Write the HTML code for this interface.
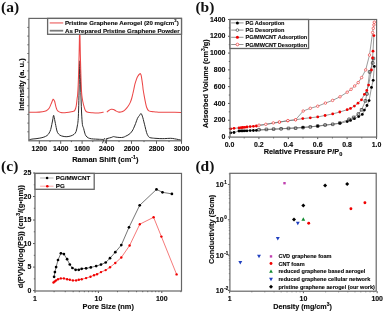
<!DOCTYPE html>
<html><head><meta charset="utf-8"><style>
html,body{margin:0;padding:0;background:#fff;}
body{width:385px;height:314px;overflow:hidden;}
svg{display:block;filter:blur(0.4px);}
</style></head><body>
<svg width="385" height="314" viewBox="0 0 385 314">
<rect x="0" y="0" width="385" height="314" fill="#fff"/>
<text x="1.0" y="11.9" font-size="15.5" text-anchor="start" fill="#111" font-weight="bold" font-family="'Liberation Serif', serif" >(a)</text>
<line x1="39.3" y1="140.8" x2="39.3" y2="143.8" stroke="#5a5a5a" stroke-width="1" />
<line x1="60.7" y1="140.8" x2="60.7" y2="143.8" stroke="#5a5a5a" stroke-width="1" />
<line x1="82.1" y1="140.8" x2="82.1" y2="143.8" stroke="#5a5a5a" stroke-width="1" />
<line x1="106.5" y1="140.8" x2="106.5" y2="143.8" stroke="#5a5a5a" stroke-width="1" />
<line x1="131.5" y1="140.8" x2="131.5" y2="143.8" stroke="#5a5a5a" stroke-width="1" />
<line x1="156.5" y1="140.8" x2="156.5" y2="143.8" stroke="#5a5a5a" stroke-width="1" />
<line x1="181.5" y1="140.8" x2="181.5" y2="143.8" stroke="#5a5a5a" stroke-width="1" />
<line x1="50.0" y1="140.8" x2="50.0" y2="142.10000000000002" stroke="#5a5a5a" stroke-width="1" />
<line x1="71.4" y1="140.8" x2="71.4" y2="142.10000000000002" stroke="#5a5a5a" stroke-width="1" />
<line x1="92.8" y1="140.8" x2="92.8" y2="142.10000000000002" stroke="#5a5a5a" stroke-width="1" />
<line x1="119" y1="140.8" x2="119" y2="142.10000000000002" stroke="#5a5a5a" stroke-width="1" />
<line x1="144" y1="140.8" x2="144" y2="142.10000000000002" stroke="#5a5a5a" stroke-width="1" />
<line x1="169" y1="140.8" x2="169" y2="142.10000000000002" stroke="#5a5a5a" stroke-width="1" />
<line x1="27.4" y1="27.4" x2="28.9" y2="27.4" stroke="#5a5a5a" stroke-width="1" />
<line x1="27.4" y1="36.099999999999994" x2="28.9" y2="36.099999999999994" stroke="#5a5a5a" stroke-width="1" />
<line x1="27.4" y1="44.8" x2="28.9" y2="44.8" stroke="#5a5a5a" stroke-width="1" />
<line x1="27.4" y1="53.5" x2="28.9" y2="53.5" stroke="#5a5a5a" stroke-width="1" />
<line x1="27.4" y1="62.199999999999996" x2="28.9" y2="62.199999999999996" stroke="#5a5a5a" stroke-width="1" />
<line x1="27.4" y1="70.9" x2="28.9" y2="70.9" stroke="#5a5a5a" stroke-width="1" />
<line x1="27.4" y1="79.6" x2="28.9" y2="79.6" stroke="#5a5a5a" stroke-width="1" />
<line x1="27.4" y1="88.29999999999998" x2="28.9" y2="88.29999999999998" stroke="#5a5a5a" stroke-width="1" />
<line x1="27.4" y1="97.0" x2="28.9" y2="97.0" stroke="#5a5a5a" stroke-width="1" />
<line x1="27.4" y1="105.69999999999999" x2="28.9" y2="105.69999999999999" stroke="#5a5a5a" stroke-width="1" />
<line x1="27.4" y1="114.4" x2="28.9" y2="114.4" stroke="#5a5a5a" stroke-width="1" />
<line x1="27.4" y1="123.1" x2="28.9" y2="123.1" stroke="#5a5a5a" stroke-width="1" />
<line x1="27.4" y1="131.79999999999998" x2="28.9" y2="131.79999999999998" stroke="#5a5a5a" stroke-width="1" />
<path d="M28.80,139.90 C29.33,139.77 30.80,139.30 32.00,139.10 C33.20,138.90 34.68,138.87 36.00,138.70 C37.32,138.53 38.58,138.37 39.90,138.10 C41.22,137.83 42.70,137.53 43.90,137.10 C45.10,136.67 46.23,136.17 47.10,135.50 C47.97,134.83 48.50,134.10 49.10,133.10 C49.70,132.10 50.25,130.93 50.70,129.50 C51.15,128.07 51.47,126.08 51.80,124.50 C52.13,122.92 52.40,121.53 52.70,120.00 C53.00,118.47 53.28,115.38 53.60,115.30 C53.92,115.22 54.30,118.13 54.60,119.50 C54.90,120.87 55.13,122.17 55.40,123.50 C55.67,124.83 55.87,126.03 56.20,127.50 C56.53,128.97 56.80,131.03 57.40,132.30 C58.00,133.57 58.87,134.43 59.80,135.10 C60.73,135.77 61.82,136.03 63.00,136.30 C64.18,136.57 65.58,136.77 66.90,136.70 C68.22,136.63 69.70,136.30 70.90,135.90 C72.10,135.50 73.23,135.03 74.10,134.30 C74.97,133.57 75.57,132.88 76.10,131.50 C76.63,130.12 76.97,127.85 77.30,126.00 C77.63,124.15 77.88,123.07 78.10,120.40 C78.32,117.73 78.43,115.07 78.60,110.00 C78.77,104.93 78.95,96.67 79.10,90.00 C79.25,83.33 79.38,74.87 79.50,70.00 C79.62,65.13 79.73,60.80 79.85,60.80 C79.97,60.80 80.08,65.97 80.20,70.00 C80.33,74.03 80.45,80.00 80.60,85.00 C80.75,90.00 80.93,95.33 81.10,100.00 C81.27,104.67 81.38,108.93 81.60,113.00 C81.82,117.07 82.07,121.85 82.40,124.40 C82.73,126.95 83.20,126.85 83.60,128.30 C84.00,129.75 84.40,131.83 84.80,133.10 C85.20,134.37 85.42,135.10 86.00,135.90 C86.58,136.70 87.38,137.42 88.30,137.90 C89.22,138.38 90.30,138.60 91.50,138.80 C92.70,139.00 94.17,139.02 95.50,139.10 C96.83,139.18 98.17,139.23 99.50,139.30 C100.83,139.37 102.83,139.47 103.50,139.50" fill="none" stroke="#2a2a2a" stroke-width="1.0" stroke-linejoin="round" />
<path d="M105.60,139.10 C106.00,138.97 107.07,138.57 108.00,138.30 C108.93,138.03 110.28,137.78 111.20,137.50 C112.12,137.22 112.72,136.67 113.50,136.60 C114.28,136.53 114.83,136.95 115.90,137.10 C116.97,137.25 118.70,137.47 119.90,137.50 C121.10,137.53 122.17,137.50 123.10,137.30 C124.03,137.10 124.70,136.67 125.50,136.30 C126.30,135.93 127.10,135.58 127.90,135.10 C128.70,134.62 129.58,134.08 130.30,133.40 C131.02,132.72 131.65,131.85 132.20,131.00 C132.75,130.15 133.03,129.55 133.60,128.30 C134.17,127.05 134.95,125.17 135.60,123.50 C136.25,121.83 136.85,119.65 137.50,118.30 C138.15,116.95 138.90,116.18 139.50,115.40 C140.10,114.62 140.57,113.30 141.10,113.60 C141.63,113.90 142.23,115.82 142.70,117.20 C143.17,118.58 143.50,120.32 143.90,121.90 C144.30,123.48 144.67,124.97 145.10,126.70 C145.53,128.43 146.02,130.78 146.50,132.30 C146.98,133.82 147.43,134.92 148.00,135.80 C148.57,136.68 148.75,137.18 149.90,137.60 C151.05,138.02 153.25,138.13 154.90,138.30 C156.55,138.47 158.17,138.55 159.80,138.60 C161.43,138.65 162.88,138.65 164.70,138.60 C166.52,138.55 169.05,138.27 170.70,138.30 C172.35,138.33 173.28,138.58 174.60,138.80 C175.92,139.02 177.53,139.37 178.60,139.60 C179.67,139.83 180.60,140.10 181.00,140.20" fill="none" stroke="#2a2a2a" stroke-width="1.0" stroke-linejoin="round" />
<path d="M28.80,112.30 C30.00,112.30 33.75,112.40 36.00,112.30 C38.25,112.20 40.58,111.97 42.30,111.70 C44.02,111.43 45.17,111.27 46.30,110.70 C47.43,110.13 48.30,109.43 49.10,108.30 C49.90,107.17 50.50,105.28 51.10,103.90 C51.70,102.52 52.30,100.77 52.70,100.00 C53.10,99.23 53.17,99.05 53.50,99.30 C53.83,99.55 54.32,100.33 54.70,101.50 C55.08,102.67 55.42,104.90 55.80,106.30 C56.18,107.70 56.63,109.10 57.00,109.90 C57.37,110.70 57.35,110.65 58.00,111.10 C58.65,111.55 59.75,112.33 60.90,112.60 C62.05,112.87 63.57,112.77 64.90,112.70 C66.23,112.63 67.58,112.42 68.90,112.20 C70.22,111.98 71.82,111.70 72.80,111.40 C73.78,111.10 74.23,111.27 74.80,110.40 C75.37,109.53 75.82,108.15 76.20,106.20 C76.58,104.25 76.87,100.57 77.10,98.70 C77.33,96.83 77.42,97.28 77.60,95.00 C77.78,92.72 78.02,89.17 78.20,85.00 C78.38,80.83 78.55,75.00 78.70,70.00 C78.85,65.00 78.98,60.00 79.10,55.00 C79.22,50.00 79.32,44.17 79.40,40.00 C79.48,35.83 79.53,31.67 79.60,30.00 C79.67,28.33 79.72,28.33 79.80,30.00 C79.88,31.67 79.96,35.83 80.05,40.00 C80.14,44.17 80.23,50.00 80.35,55.00 C80.47,60.00 80.61,65.00 80.75,70.00 C80.89,75.00 81.03,80.83 81.20,85.00 C81.38,89.17 81.53,92.25 81.80,95.00 C82.07,97.75 82.40,99.47 82.80,101.50 C83.20,103.53 83.73,105.63 84.20,107.20 C84.67,108.77 84.98,110.05 85.60,110.90 C86.22,111.75 86.73,111.98 87.90,112.30 C89.07,112.62 91.03,112.68 92.60,112.80 C94.17,112.92 96.05,113.00 97.30,113.00 C98.55,113.00 99.17,112.92 100.10,112.80 C101.03,112.68 102.32,112.38 102.90,112.30 C103.48,112.22 103.48,112.30 103.60,112.30" fill="none" stroke="#ec4848" stroke-width="1.05" stroke-linejoin="round" />
<path d="M106.80,112.10 C107.13,111.83 108.07,110.97 108.80,110.50 C109.53,110.03 110.42,109.47 111.20,109.30 C111.98,109.13 112.72,109.23 113.50,109.50 C114.28,109.77 115.10,110.50 115.90,110.90 C116.70,111.30 117.50,111.70 118.30,111.90 C119.10,112.10 119.90,112.20 120.70,112.10 C121.50,112.00 122.30,111.77 123.10,111.30 C123.90,110.83 124.70,110.10 125.50,109.30 C126.30,108.50 127.10,107.65 127.90,106.50 C128.70,105.35 129.65,103.82 130.30,102.40 C130.95,100.98 131.37,99.48 131.80,98.00 C132.23,96.52 132.57,94.92 132.90,93.50 C133.23,92.08 133.48,90.97 133.80,89.50 C134.12,88.03 134.43,86.17 134.80,84.70 C135.17,83.23 135.55,82.02 136.00,80.70 C136.45,79.38 136.85,77.97 137.50,76.80 C138.15,75.63 139.30,73.97 139.90,73.70 C140.50,73.43 140.77,74.17 141.10,75.20 C141.43,76.23 141.63,78.18 141.90,79.90 C142.17,81.62 142.48,83.82 142.70,85.50 C142.92,87.18 142.93,88.18 143.20,90.00 C143.47,91.82 143.92,94.28 144.30,96.40 C144.68,98.52 145.10,100.85 145.50,102.70 C145.90,104.55 146.20,106.18 146.70,107.50 C147.20,108.82 147.70,109.92 148.50,110.60 C149.30,111.28 150.33,111.38 151.50,111.60 C152.67,111.82 154.08,111.78 155.50,111.90 C156.92,112.02 157.58,112.23 160.00,112.30 C162.42,112.37 166.47,112.28 170.00,112.30 C173.53,112.32 179.33,112.38 181.20,112.40" fill="none" stroke="#ec4848" stroke-width="1.05" stroke-linejoin="round" />
<rect x="28.9" y="18.4" width="152.6" height="122.4" stroke="#666666" stroke-width="1.2" fill="none"/>
<line x1="102.4" y1="143.3" x2="104.6" y2="138.0" stroke="#333" stroke-width="0.9" />
<line x1="105.0" y1="143.3" x2="107.4" y2="138.0" stroke="#333" stroke-width="0.9" />
<rect x="47.6" y="18.4" width="133.9" height="15.899999999999999" stroke="#666666" stroke-width="1.3" fill="#fff"/>
<line x1="49.7" y1="22.9" x2="63.2" y2="22.9" stroke="#f39a9a" stroke-width="1.8" />
<line x1="49.7" y1="30.7" x2="63.2" y2="30.7" stroke="#7a7a7a" stroke-width="1.8" />
<text x="65.0" y="24.8" font-size="6.15" text-anchor="start" fill="#0a0a0a" font-weight="bold" font-family="'Liberation Sans', sans-serif"  stroke="#0a0a0a" stroke-width="0.13">Pristine Graphene Aerogel (20 mg/cm<tspan font-size="4.2" dy="-2.5">3</tspan><tspan dy="2.5">)</tspan></text>
<text x="65.0" y="32.6" font-size="6.15" text-anchor="start" fill="#0a0a0a" font-weight="bold" font-family="'Liberation Sans', sans-serif"  stroke="#0a0a0a" stroke-width="0.13">As Prepared Pristine Graphene Powder</text>
<text x="39.3" y="150.5" font-size="7.0" text-anchor="middle" fill="#0a0a0a" font-weight="bold" font-family="'Liberation Sans', sans-serif"  stroke="#0a0a0a" stroke-width="0.13">1200</text>
<text x="60.7" y="150.5" font-size="7.0" text-anchor="middle" fill="#0a0a0a" font-weight="bold" font-family="'Liberation Sans', sans-serif"  stroke="#0a0a0a" stroke-width="0.13">1400</text>
<text x="82.1" y="150.5" font-size="7.0" text-anchor="middle" fill="#0a0a0a" font-weight="bold" font-family="'Liberation Sans', sans-serif"  stroke="#0a0a0a" stroke-width="0.13">1600</text>
<text x="106.5" y="150.5" font-size="7.0" text-anchor="middle" fill="#0a0a0a" font-weight="bold" font-family="'Liberation Sans', sans-serif"  stroke="#0a0a0a" stroke-width="0.13">2400</text>
<text x="131.5" y="150.5" font-size="7.0" text-anchor="middle" fill="#0a0a0a" font-weight="bold" font-family="'Liberation Sans', sans-serif"  stroke="#0a0a0a" stroke-width="0.13">2600</text>
<text x="156.5" y="150.5" font-size="7.0" text-anchor="middle" fill="#0a0a0a" font-weight="bold" font-family="'Liberation Sans', sans-serif"  stroke="#0a0a0a" stroke-width="0.13">2800</text>
<text x="181.5" y="150.5" font-size="7.0" text-anchor="middle" fill="#0a0a0a" font-weight="bold" font-family="'Liberation Sans', sans-serif"  stroke="#0a0a0a" stroke-width="0.13">3000</text>
<text x="105.3" y="162.0" font-size="7.5" text-anchor="middle" fill="#0a0a0a" font-weight="bold" font-family="'Liberation Sans', sans-serif"  stroke="#0a0a0a" stroke-width="0.13">Raman Shift (cm<tspan font-size="5.2" dy="-3.0">-1</tspan><tspan dy="3.0">)</tspan></text>
<text transform="translate(24.0,84.6) rotate(-90)" font-size="7.45" text-anchor="middle" fill="#0a0a0a" font-weight="bold" font-family="'Liberation Sans', sans-serif"  stroke="#0a0a0a" stroke-width="0.13">Intensity (a. u.)</text>
<text x="195.4" y="11.9" font-size="15.5" text-anchor="start" fill="#111" font-weight="bold" font-family="'Liberation Serif', serif" >(b)</text>
<line x1="228.0" y1="137.0" x2="230.0" y2="137.0" stroke="#5a5a5a" stroke-width="1" />
<text x="225.4" y="139.1" font-size="6.95" text-anchor="end" fill="#0a0a0a" font-weight="bold" font-family="'Liberation Sans', sans-serif"  stroke="#0a0a0a" stroke-width="0.13">0</text>
<line x1="228.0" y1="120.21428571428572" x2="230.0" y2="120.21428571428572" stroke="#5a5a5a" stroke-width="1" />
<text x="225.4" y="122.31428571428572" font-size="6.95" text-anchor="end" fill="#0a0a0a" font-weight="bold" font-family="'Liberation Sans', sans-serif"  stroke="#0a0a0a" stroke-width="0.13">200</text>
<line x1="228.0" y1="103.42857142857143" x2="230.0" y2="103.42857142857143" stroke="#5a5a5a" stroke-width="1" />
<text x="225.4" y="105.52857142857142" font-size="6.95" text-anchor="end" fill="#0a0a0a" font-weight="bold" font-family="'Liberation Sans', sans-serif"  stroke="#0a0a0a" stroke-width="0.13">400</text>
<line x1="228.0" y1="86.64285714285714" x2="230.0" y2="86.64285714285714" stroke="#5a5a5a" stroke-width="1" />
<text x="225.4" y="88.74285714285713" font-size="6.95" text-anchor="end" fill="#0a0a0a" font-weight="bold" font-family="'Liberation Sans', sans-serif"  stroke="#0a0a0a" stroke-width="0.13">600</text>
<line x1="228.0" y1="69.85714285714286" x2="230.0" y2="69.85714285714286" stroke="#5a5a5a" stroke-width="1" />
<text x="225.4" y="71.95714285714286" font-size="6.95" text-anchor="end" fill="#0a0a0a" font-weight="bold" font-family="'Liberation Sans', sans-serif"  stroke="#0a0a0a" stroke-width="0.13">800</text>
<line x1="228.0" y1="53.071428571428584" x2="230.0" y2="53.071428571428584" stroke="#5a5a5a" stroke-width="1" />
<text x="225.4" y="55.171428571428585" font-size="6.95" text-anchor="end" fill="#0a0a0a" font-weight="bold" font-family="'Liberation Sans', sans-serif"  stroke="#0a0a0a" stroke-width="0.13">1000</text>
<line x1="228.0" y1="36.28571428571429" x2="230.0" y2="36.28571428571429" stroke="#5a5a5a" stroke-width="1" />
<text x="225.4" y="38.38571428571429" font-size="6.95" text-anchor="end" fill="#0a0a0a" font-weight="bold" font-family="'Liberation Sans', sans-serif"  stroke="#0a0a0a" stroke-width="0.13">1200</text>
<line x1="228.0" y1="19.500000000000014" x2="230.0" y2="19.500000000000014" stroke="#5a5a5a" stroke-width="1" />
<text x="225.4" y="21.600000000000016" font-size="6.95" text-anchor="end" fill="#0a0a0a" font-weight="bold" font-family="'Liberation Sans', sans-serif"  stroke="#0a0a0a" stroke-width="0.13">1400</text>
<line x1="228.8" y1="128.60714285714286" x2="230.0" y2="128.60714285714286" stroke="#5a5a5a" stroke-width="1" />
<line x1="228.8" y1="111.82142857142857" x2="230.0" y2="111.82142857142857" stroke="#5a5a5a" stroke-width="1" />
<line x1="228.8" y1="95.03571428571429" x2="230.0" y2="95.03571428571429" stroke="#5a5a5a" stroke-width="1" />
<line x1="228.8" y1="78.25" x2="230.0" y2="78.25" stroke="#5a5a5a" stroke-width="1" />
<line x1="228.8" y1="61.46428571428572" x2="230.0" y2="61.46428571428572" stroke="#5a5a5a" stroke-width="1" />
<line x1="228.8" y1="44.67857142857143" x2="230.0" y2="44.67857142857143" stroke="#5a5a5a" stroke-width="1" />
<line x1="228.8" y1="27.892857142857153" x2="230.0" y2="27.892857142857153" stroke="#5a5a5a" stroke-width="1" />
<line x1="229.5" y1="137.1" x2="229.5" y2="139.1" stroke="#5a5a5a" stroke-width="1" />
<text x="229.5" y="146.8" font-size="6.95" text-anchor="middle" fill="#0a0a0a" font-weight="bold" font-family="'Liberation Sans', sans-serif"  stroke="#0a0a0a" stroke-width="0.13">0.0</text>
<line x1="258.9" y1="137.1" x2="258.9" y2="139.1" stroke="#5a5a5a" stroke-width="1" />
<text x="258.9" y="146.8" font-size="6.95" text-anchor="middle" fill="#0a0a0a" font-weight="bold" font-family="'Liberation Sans', sans-serif"  stroke="#0a0a0a" stroke-width="0.13">0.2</text>
<line x1="288.3" y1="137.1" x2="288.3" y2="139.1" stroke="#5a5a5a" stroke-width="1" />
<text x="288.3" y="146.8" font-size="6.95" text-anchor="middle" fill="#0a0a0a" font-weight="bold" font-family="'Liberation Sans', sans-serif"  stroke="#0a0a0a" stroke-width="0.13">0.4</text>
<line x1="317.70000000000005" y1="137.1" x2="317.70000000000005" y2="139.1" stroke="#5a5a5a" stroke-width="1" />
<text x="317.70000000000005" y="146.8" font-size="6.95" text-anchor="middle" fill="#0a0a0a" font-weight="bold" font-family="'Liberation Sans', sans-serif"  stroke="#0a0a0a" stroke-width="0.13">0.6</text>
<line x1="347.1" y1="137.1" x2="347.1" y2="139.1" stroke="#5a5a5a" stroke-width="1" />
<text x="347.1" y="146.8" font-size="6.95" text-anchor="middle" fill="#0a0a0a" font-weight="bold" font-family="'Liberation Sans', sans-serif"  stroke="#0a0a0a" stroke-width="0.13">0.8</text>
<line x1="376.5" y1="137.1" x2="376.5" y2="139.1" stroke="#5a5a5a" stroke-width="1" />
<text x="376.5" y="146.8" font-size="6.95" text-anchor="middle" fill="#0a0a0a" font-weight="bold" font-family="'Liberation Sans', sans-serif"  stroke="#0a0a0a" stroke-width="0.13">1.0</text>
<line x1="244.2" y1="137.1" x2="244.2" y2="138.4" stroke="#5a5a5a" stroke-width="1" />
<line x1="273.6" y1="137.1" x2="273.6" y2="138.4" stroke="#5a5a5a" stroke-width="1" />
<line x1="303.0" y1="137.1" x2="303.0" y2="138.4" stroke="#5a5a5a" stroke-width="1" />
<line x1="332.4" y1="137.1" x2="332.4" y2="138.4" stroke="#5a5a5a" stroke-width="1" />
<line x1="361.8" y1="137.1" x2="361.8" y2="138.4" stroke="#5a5a5a" stroke-width="1" />
<text x="303.0" y="153.9" font-size="7.35" text-anchor="middle" fill="#0a0a0a" font-weight="bold" font-family="'Liberation Sans', sans-serif"  stroke="#0a0a0a" stroke-width="0.13">Relative Pressure P/P<tspan font-size="5.6" dy="2.2">0</tspan></text>
<text transform="translate(208.0,83.7) rotate(-90)" font-size="7.3" text-anchor="middle" fill="#0a0a0a" font-weight="bold" font-family="'Liberation Sans', sans-serif"  stroke="#0a0a0a" stroke-width="0.13">Adsorbed Volume (cm<tspan font-size="5.0" dy="-3.0">3</tspan><tspan dy="3.0">/g)</tspan></text>
<polyline points="230.70,132.80 234.00,132.50 239.00,131.00 241.10,130.90 242.80,130.90 244.80,130.80 247.00,130.80 250.20,130.60 253.40,130.50 256.40,130.40 303.00,127.30 317.70,126.20 340.00,123.30 347.20,121.60 350.50,120.40 354.40,118.70 358.70,116.60 362.30,114.40 364.40,110.10 367.00,105.50 369.10,100.60 371.50,87.40 373.20,80.30 374.30,66.40" fill="none" stroke="#707070" stroke-width="0.7" stroke-linejoin="round" />
<polyline points="373.40,58.50 372.70,62.90 369.60,71.90 366.90,93.90 365.40,100.90 361.60,109.80 358.40,114.00 353.70,117.40 349.10,119.30 339.80,123.00 332.70,124.30 325.10,125.00 317.70,126.00 310.30,126.90 303.00,127.60 295.60,128.20 288.50,128.40 281.10,128.80 273.60,129.10 266.40,129.40 259.00,129.70" fill="none" stroke="#707070" stroke-width="0.7" stroke-linejoin="round" />
<polyline points="230.70,128.80 234.00,128.30 239.00,127.90 241.10,127.70 242.80,127.50 244.80,127.30 247.00,127.00 250.20,126.60 253.40,126.30 256.40,126.00 279.40,122.20 287.90,120.80 295.60,119.80 302.80,118.60 310.30,117.80 317.70,116.90 325.10,115.50 332.70,113.90 339.80,112.00 347.20,109.70 350.50,108.40 354.40,106.10 358.00,103.20 361.50,99.80 364.40,94.30 366.80,90.50 368.60,85.10 371.50,70.00 372.60,57.90 373.00,51.20 373.90,35.60" fill="none" stroke="#707070" stroke-width="0.7" stroke-linejoin="round" />
<polyline points="374.30,22.20 373.90,24.90 373.30,28.30 372.60,32.50 369.50,55.00 365.70,69.90 361.60,77.60 358.20,82.60 354.70,86.00 351.10,89.30 347.20,92.20 340.00,96.80 332.60,100.40 325.40,103.10 317.70,106.20 310.30,108.30 303.20,111.00 295.60,119.80 287.90,120.60 279.40,122.00 273.30,122.90 265.80,124.30 259.00,125.20" fill="none" stroke="#707070" stroke-width="0.7" stroke-linejoin="round" />
<circle cx="230.70" cy="132.80" r="1.4" fill="#000" stroke="none" stroke-width="0.6"/>
<circle cx="234.00" cy="132.50" r="1.4" fill="#000" stroke="none" stroke-width="0.6"/>
<circle cx="239.00" cy="131.00" r="1.4" fill="#000" stroke="none" stroke-width="0.6"/>
<circle cx="241.10" cy="130.90" r="1.4" fill="#000" stroke="none" stroke-width="0.6"/>
<circle cx="242.80" cy="130.90" r="1.4" fill="#000" stroke="none" stroke-width="0.6"/>
<circle cx="244.80" cy="130.80" r="1.4" fill="#000" stroke="none" stroke-width="0.6"/>
<circle cx="247.00" cy="130.80" r="1.4" fill="#000" stroke="none" stroke-width="0.6"/>
<circle cx="250.20" cy="130.60" r="1.4" fill="#000" stroke="none" stroke-width="0.6"/>
<circle cx="253.40" cy="130.50" r="1.4" fill="#000" stroke="none" stroke-width="0.6"/>
<circle cx="256.40" cy="130.40" r="1.4" fill="#000" stroke="none" stroke-width="0.6"/>
<circle cx="303.00" cy="127.30" r="1.4" fill="#000" stroke="none" stroke-width="0.6"/>
<circle cx="317.70" cy="126.20" r="1.4" fill="#000" stroke="none" stroke-width="0.6"/>
<circle cx="340.00" cy="123.30" r="1.4" fill="#000" stroke="none" stroke-width="0.6"/>
<circle cx="347.20" cy="121.60" r="1.4" fill="#000" stroke="none" stroke-width="0.6"/>
<circle cx="350.50" cy="120.40" r="1.4" fill="#000" stroke="none" stroke-width="0.6"/>
<circle cx="354.40" cy="118.70" r="1.4" fill="#000" stroke="none" stroke-width="0.6"/>
<circle cx="358.70" cy="116.60" r="1.4" fill="#000" stroke="none" stroke-width="0.6"/>
<circle cx="362.30" cy="114.40" r="1.4" fill="#000" stroke="none" stroke-width="0.6"/>
<circle cx="364.40" cy="110.10" r="1.4" fill="#000" stroke="none" stroke-width="0.6"/>
<circle cx="367.00" cy="105.50" r="1.4" fill="#000" stroke="none" stroke-width="0.6"/>
<circle cx="369.10" cy="100.60" r="1.4" fill="#000" stroke="none" stroke-width="0.6"/>
<circle cx="371.50" cy="87.40" r="1.4" fill="#000" stroke="none" stroke-width="0.6"/>
<circle cx="373.20" cy="80.30" r="1.4" fill="#000" stroke="none" stroke-width="0.6"/>
<circle cx="374.30" cy="66.40" r="1.4" fill="#000" stroke="none" stroke-width="0.6"/>
<rect x="372.10" y="57.20" width="2.6" height="2.6" rx="0.3" fill="none" stroke="#222" stroke-width="0.7"/>
<rect x="371.40" y="61.60" width="2.6" height="2.6" rx="0.3" fill="none" stroke="#222" stroke-width="0.7"/>
<rect x="368.30" y="70.60" width="2.6" height="2.6" rx="0.3" fill="none" stroke="#222" stroke-width="0.7"/>
<rect x="365.60" y="92.60" width="2.6" height="2.6" rx="0.3" fill="none" stroke="#222" stroke-width="0.7"/>
<rect x="364.10" y="99.60" width="2.6" height="2.6" rx="0.3" fill="none" stroke="#222" stroke-width="0.7"/>
<rect x="360.30" y="108.50" width="2.6" height="2.6" rx="0.3" fill="none" stroke="#222" stroke-width="0.7"/>
<rect x="357.10" y="112.70" width="2.6" height="2.6" rx="0.3" fill="none" stroke="#222" stroke-width="0.7"/>
<rect x="352.40" y="116.10" width="2.6" height="2.6" rx="0.3" fill="none" stroke="#222" stroke-width="0.7"/>
<rect x="347.80" y="118.00" width="2.6" height="2.6" rx="0.3" fill="none" stroke="#222" stroke-width="0.7"/>
<rect x="338.50" y="121.70" width="2.6" height="2.6" rx="0.3" fill="none" stroke="#222" stroke-width="0.7"/>
<rect x="331.40" y="123.00" width="2.6" height="2.6" rx="0.3" fill="none" stroke="#222" stroke-width="0.7"/>
<rect x="323.80" y="123.70" width="2.6" height="2.6" rx="0.3" fill="none" stroke="#222" stroke-width="0.7"/>
<rect x="316.40" y="124.70" width="2.6" height="2.6" rx="0.3" fill="none" stroke="#222" stroke-width="0.7"/>
<rect x="309.00" y="125.60" width="2.6" height="2.6" rx="0.3" fill="none" stroke="#222" stroke-width="0.7"/>
<rect x="301.70" y="126.30" width="2.6" height="2.6" rx="0.3" fill="none" stroke="#222" stroke-width="0.7"/>
<rect x="294.30" y="126.90" width="2.6" height="2.6" rx="0.3" fill="none" stroke="#222" stroke-width="0.7"/>
<rect x="287.20" y="127.10" width="2.6" height="2.6" rx="0.3" fill="none" stroke="#222" stroke-width="0.7"/>
<rect x="279.80" y="127.50" width="2.6" height="2.6" rx="0.3" fill="none" stroke="#222" stroke-width="0.7"/>
<rect x="272.30" y="127.80" width="2.6" height="2.6" rx="0.3" fill="none" stroke="#222" stroke-width="0.7"/>
<rect x="265.10" y="128.10" width="2.6" height="2.6" rx="0.3" fill="none" stroke="#222" stroke-width="0.7"/>
<rect x="257.70" y="128.40" width="2.6" height="2.6" rx="0.3" fill="none" stroke="#222" stroke-width="0.7"/>
<circle cx="230.70" cy="128.80" r="1.4" fill="#f00000" stroke="none" stroke-width="0.6"/>
<circle cx="234.00" cy="128.30" r="1.4" fill="#f00000" stroke="none" stroke-width="0.6"/>
<circle cx="239.00" cy="127.90" r="1.4" fill="#f00000" stroke="none" stroke-width="0.6"/>
<circle cx="241.10" cy="127.70" r="1.4" fill="#f00000" stroke="none" stroke-width="0.6"/>
<circle cx="242.80" cy="127.50" r="1.4" fill="#f00000" stroke="none" stroke-width="0.6"/>
<circle cx="244.80" cy="127.30" r="1.4" fill="#f00000" stroke="none" stroke-width="0.6"/>
<circle cx="247.00" cy="127.00" r="1.4" fill="#f00000" stroke="none" stroke-width="0.6"/>
<circle cx="250.20" cy="126.60" r="1.4" fill="#f00000" stroke="none" stroke-width="0.6"/>
<circle cx="253.40" cy="126.30" r="1.4" fill="#f00000" stroke="none" stroke-width="0.6"/>
<circle cx="256.40" cy="126.00" r="1.4" fill="#f00000" stroke="none" stroke-width="0.6"/>
<circle cx="279.40" cy="122.20" r="1.4" fill="#f00000" stroke="none" stroke-width="0.6"/>
<circle cx="287.90" cy="120.80" r="1.4" fill="#f00000" stroke="none" stroke-width="0.6"/>
<circle cx="295.60" cy="119.80" r="1.4" fill="#f00000" stroke="none" stroke-width="0.6"/>
<circle cx="302.80" cy="118.60" r="1.4" fill="#f00000" stroke="none" stroke-width="0.6"/>
<circle cx="310.30" cy="117.80" r="1.4" fill="#f00000" stroke="none" stroke-width="0.6"/>
<circle cx="317.70" cy="116.90" r="1.4" fill="#f00000" stroke="none" stroke-width="0.6"/>
<circle cx="325.10" cy="115.50" r="1.4" fill="#f00000" stroke="none" stroke-width="0.6"/>
<circle cx="332.70" cy="113.90" r="1.4" fill="#f00000" stroke="none" stroke-width="0.6"/>
<circle cx="339.80" cy="112.00" r="1.4" fill="#f00000" stroke="none" stroke-width="0.6"/>
<circle cx="347.20" cy="109.70" r="1.4" fill="#f00000" stroke="none" stroke-width="0.6"/>
<circle cx="350.50" cy="108.40" r="1.4" fill="#f00000" stroke="none" stroke-width="0.6"/>
<circle cx="354.40" cy="106.10" r="1.4" fill="#f00000" stroke="none" stroke-width="0.6"/>
<circle cx="358.00" cy="103.20" r="1.4" fill="#f00000" stroke="none" stroke-width="0.6"/>
<circle cx="361.50" cy="99.80" r="1.4" fill="#f00000" stroke="none" stroke-width="0.6"/>
<circle cx="364.40" cy="94.30" r="1.4" fill="#f00000" stroke="none" stroke-width="0.6"/>
<circle cx="366.80" cy="90.50" r="1.4" fill="#f00000" stroke="none" stroke-width="0.6"/>
<circle cx="368.60" cy="85.10" r="1.4" fill="#f00000" stroke="none" stroke-width="0.6"/>
<circle cx="371.50" cy="70.00" r="1.4" fill="#f00000" stroke="none" stroke-width="0.6"/>
<circle cx="372.60" cy="57.90" r="1.4" fill="#f00000" stroke="none" stroke-width="0.6"/>
<circle cx="373.00" cy="51.20" r="1.4" fill="#f00000" stroke="none" stroke-width="0.6"/>
<circle cx="373.90" cy="35.60" r="1.4" fill="#f00000" stroke="none" stroke-width="0.6"/>
<circle cx="374.30" cy="22.20" r="1.25" fill="#fff" stroke="#f03030" stroke-width="0.65"/>
<circle cx="373.90" cy="24.90" r="1.25" fill="#fff" stroke="#f03030" stroke-width="0.65"/>
<circle cx="373.30" cy="28.30" r="1.25" fill="#fff" stroke="#f03030" stroke-width="0.65"/>
<circle cx="372.60" cy="32.50" r="1.25" fill="#fff" stroke="#f03030" stroke-width="0.65"/>
<circle cx="369.50" cy="55.00" r="1.25" fill="#fff" stroke="#f03030" stroke-width="0.65"/>
<circle cx="365.70" cy="69.90" r="1.25" fill="#fff" stroke="#f03030" stroke-width="0.65"/>
<circle cx="361.60" cy="77.60" r="1.25" fill="#fff" stroke="#f03030" stroke-width="0.65"/>
<circle cx="358.20" cy="82.60" r="1.25" fill="#fff" stroke="#f03030" stroke-width="0.65"/>
<circle cx="354.70" cy="86.00" r="1.25" fill="#fff" stroke="#f03030" stroke-width="0.65"/>
<circle cx="351.10" cy="89.30" r="1.25" fill="#fff" stroke="#f03030" stroke-width="0.65"/>
<circle cx="347.20" cy="92.20" r="1.25" fill="#fff" stroke="#f03030" stroke-width="0.65"/>
<circle cx="340.00" cy="96.80" r="1.25" fill="#fff" stroke="#f03030" stroke-width="0.65"/>
<circle cx="332.60" cy="100.40" r="1.25" fill="#fff" stroke="#f03030" stroke-width="0.65"/>
<circle cx="325.40" cy="103.10" r="1.25" fill="#fff" stroke="#f03030" stroke-width="0.65"/>
<circle cx="317.70" cy="106.20" r="1.25" fill="#fff" stroke="#f03030" stroke-width="0.65"/>
<circle cx="310.30" cy="108.30" r="1.25" fill="#fff" stroke="#f03030" stroke-width="0.65"/>
<circle cx="303.20" cy="111.00" r="1.25" fill="#fff" stroke="#f03030" stroke-width="0.65"/>
<circle cx="295.60" cy="119.80" r="1.25" fill="#fff" stroke="#f03030" stroke-width="0.65"/>
<circle cx="287.90" cy="120.60" r="1.25" fill="#fff" stroke="#f03030" stroke-width="0.65"/>
<circle cx="279.40" cy="122.00" r="1.25" fill="#fff" stroke="#f03030" stroke-width="0.65"/>
<circle cx="273.30" cy="122.90" r="1.25" fill="#fff" stroke="#f03030" stroke-width="0.65"/>
<circle cx="265.80" cy="124.30" r="1.25" fill="#fff" stroke="#f03030" stroke-width="0.65"/>
<circle cx="259.00" cy="125.20" r="1.25" fill="#fff" stroke="#f03030" stroke-width="0.65"/>
<rect x="230.0" y="19.5" width="146.60000000000002" height="117.6" stroke="#666666" stroke-width="1.2" fill="none"/>
<rect x="230.0" y="19.5" width="78.60000000000002" height="29.0" stroke="#666666" stroke-width="1.3" fill="#fff"/>
<line x1="231.2" y1="22.9" x2="243.5" y2="22.9" stroke="#777" stroke-width="0.8" />
<circle cx="237.40" cy="22.90" r="1.5" fill="#000" stroke="none" stroke-width="0.6"/>
<text x="245.5" y="24.9" font-size="5.55" text-anchor="start" fill="#0a0a0a" font-weight="bold" font-family="'Liberation Sans', sans-serif"  stroke="#0a0a0a" stroke-width="0.13">PG Adsorption</text>
<line x1="231.2" y1="30.1" x2="243.5" y2="30.1" stroke="#777" stroke-width="0.8" />
<circle cx="237.40" cy="30.10" r="1.35" fill="#fff" stroke="#444" stroke-width="0.7"/>
<text x="245.5" y="32.1" font-size="5.55" text-anchor="start" fill="#0a0a0a" font-weight="bold" font-family="'Liberation Sans', sans-serif"  stroke="#0a0a0a" stroke-width="0.13">PG Desorption</text>
<line x1="231.2" y1="37.3" x2="243.5" y2="37.3" stroke="#777" stroke-width="0.8" />
<circle cx="237.40" cy="37.30" r="1.5" fill="#f00000" stroke="none" stroke-width="0.6"/>
<text x="245.5" y="39.3" font-size="5.55" text-anchor="start" fill="#0a0a0a" font-weight="bold" font-family="'Liberation Sans', sans-serif"  stroke="#0a0a0a" stroke-width="0.13">PG/MWCNT Adsorption</text>
<line x1="231.2" y1="44.5" x2="243.5" y2="44.5" stroke="#777" stroke-width="0.8" />
<circle cx="237.40" cy="44.50" r="1.35" fill="#fff" stroke="#f03030" stroke-width="0.7"/>
<text x="245.5" y="46.5" font-size="5.55" text-anchor="start" fill="#0a0a0a" font-weight="bold" font-family="'Liberation Sans', sans-serif"  stroke="#0a0a0a" stroke-width="0.13">PG/MWCNT Desorption</text>
<text x="1.1" y="170.8" font-size="15.5" text-anchor="start" fill="#111" font-weight="bold" font-family="'Liberation Serif', serif" >(c)</text>
<line x1="33.0" y1="290.6" x2="35.0" y2="290.6" stroke="#5a5a5a" stroke-width="1" />
<text x="31.3" y="292.90000000000003" font-size="6.95" text-anchor="end" fill="#0a0a0a" font-weight="bold" font-family="'Liberation Sans', sans-serif"  stroke="#0a0a0a" stroke-width="0.13">0</text>
<line x1="33.0" y1="267.08000000000004" x2="35.0" y2="267.08000000000004" stroke="#5a5a5a" stroke-width="1" />
<text x="31.3" y="269.38000000000005" font-size="6.95" text-anchor="end" fill="#0a0a0a" font-weight="bold" font-family="'Liberation Sans', sans-serif"  stroke="#0a0a0a" stroke-width="0.13">5</text>
<line x1="33.0" y1="243.56000000000003" x2="35.0" y2="243.56000000000003" stroke="#5a5a5a" stroke-width="1" />
<text x="31.3" y="245.86000000000004" font-size="6.95" text-anchor="end" fill="#0a0a0a" font-weight="bold" font-family="'Liberation Sans', sans-serif"  stroke="#0a0a0a" stroke-width="0.13">10</text>
<line x1="33.0" y1="220.04000000000002" x2="35.0" y2="220.04000000000002" stroke="#5a5a5a" stroke-width="1" />
<text x="31.3" y="222.34000000000003" font-size="6.95" text-anchor="end" fill="#0a0a0a" font-weight="bold" font-family="'Liberation Sans', sans-serif"  stroke="#0a0a0a" stroke-width="0.13">15</text>
<line x1="33.0" y1="196.52000000000004" x2="35.0" y2="196.52000000000004" stroke="#5a5a5a" stroke-width="1" />
<text x="31.3" y="198.82000000000005" font-size="6.95" text-anchor="end" fill="#0a0a0a" font-weight="bold" font-family="'Liberation Sans', sans-serif"  stroke="#0a0a0a" stroke-width="0.13">20</text>
<line x1="33.0" y1="173.00000000000003" x2="35.0" y2="173.00000000000003" stroke="#5a5a5a" stroke-width="1" />
<text x="31.3" y="175.30000000000004" font-size="6.95" text-anchor="end" fill="#0a0a0a" font-weight="bold" font-family="'Liberation Sans', sans-serif"  stroke="#0a0a0a" stroke-width="0.13">25</text>
<line x1="33.8" y1="278.84000000000003" x2="35.0" y2="278.84000000000003" stroke="#5a5a5a" stroke-width="1" />
<line x1="33.8" y1="255.32000000000002" x2="35.0" y2="255.32000000000002" stroke="#5a5a5a" stroke-width="1" />
<line x1="33.8" y1="231.8" x2="35.0" y2="231.8" stroke="#5a5a5a" stroke-width="1" />
<line x1="33.8" y1="208.28000000000003" x2="35.0" y2="208.28000000000003" stroke="#5a5a5a" stroke-width="1" />
<line x1="33.8" y1="184.76000000000005" x2="35.0" y2="184.76000000000005" stroke="#5a5a5a" stroke-width="1" />
<line x1="35.0" y1="291.0" x2="35.0" y2="293.0" stroke="#5a5a5a" stroke-width="1" />
<text x="35.0" y="300.6" font-size="6.95" text-anchor="middle" fill="#0a0a0a" font-weight="bold" font-family="'Liberation Sans', sans-serif"  stroke="#0a0a0a" stroke-width="0.13">1</text>
<line x1="98.4" y1="291.0" x2="98.4" y2="293.0" stroke="#5a5a5a" stroke-width="1" />
<text x="98.4" y="300.6" font-size="6.95" text-anchor="middle" fill="#0a0a0a" font-weight="bold" font-family="'Liberation Sans', sans-serif"  stroke="#0a0a0a" stroke-width="0.13">10</text>
<line x1="161.8" y1="291.0" x2="161.8" y2="293.0" stroke="#5a5a5a" stroke-width="1" />
<text x="161.8" y="300.6" font-size="6.95" text-anchor="middle" fill="#0a0a0a" font-weight="bold" font-family="'Liberation Sans', sans-serif"  stroke="#0a0a0a" stroke-width="0.13">100</text>
<line x1="54.08530172509641" y1="291.0" x2="54.08530172509641" y2="292.2" stroke="#5a5a5a" stroke-width="1" />
<line x1="65.2494875492266" y1="291.0" x2="65.2494875492266" y2="292.2" stroke="#5a5a5a" stroke-width="1" />
<line x1="73.17060345019281" y1="291.0" x2="73.17060345019281" y2="292.2" stroke="#5a5a5a" stroke-width="1" />
<line x1="79.31469827490359" y1="291.0" x2="79.31469827490359" y2="292.2" stroke="#5a5a5a" stroke-width="1" />
<line x1="84.33478927432301" y1="291.0" x2="84.33478927432301" y2="292.2" stroke="#5a5a5a" stroke-width="1" />
<line x1="88.57921573690388" y1="291.0" x2="88.57921573690388" y2="292.2" stroke="#5a5a5a" stroke-width="1" />
<line x1="92.25590517528923" y1="291.0" x2="92.25590517528923" y2="292.2" stroke="#5a5a5a" stroke-width="1" />
<line x1="95.4989750984532" y1="291.0" x2="95.4989750984532" y2="292.2" stroke="#5a5a5a" stroke-width="1" />
<line x1="117.4853017250964" y1="291.0" x2="117.4853017250964" y2="292.2" stroke="#5a5a5a" stroke-width="1" />
<line x1="128.6494875492266" y1="291.0" x2="128.6494875492266" y2="292.2" stroke="#5a5a5a" stroke-width="1" />
<line x1="136.57060345019283" y1="291.0" x2="136.57060345019283" y2="292.2" stroke="#5a5a5a" stroke-width="1" />
<line x1="142.71469827490358" y1="291.0" x2="142.71469827490358" y2="292.2" stroke="#5a5a5a" stroke-width="1" />
<line x1="147.73478927432302" y1="291.0" x2="147.73478927432302" y2="292.2" stroke="#5a5a5a" stroke-width="1" />
<line x1="151.97921573690388" y1="291.0" x2="151.97921573690388" y2="292.2" stroke="#5a5a5a" stroke-width="1" />
<line x1="155.6559051752892" y1="291.0" x2="155.6559051752892" y2="292.2" stroke="#5a5a5a" stroke-width="1" />
<line x1="158.8989750984532" y1="291.0" x2="158.8989750984532" y2="292.2" stroke="#5a5a5a" stroke-width="1" />
<line x1="180.8853017250964" y1="291.0" x2="180.8853017250964" y2="292.2" stroke="#5a5a5a" stroke-width="1" />
<text x="108.2" y="309.0" font-size="7.4" text-anchor="middle" fill="#0a0a0a" font-weight="bold" font-family="'Liberation Sans', sans-serif"  stroke="#0a0a0a" stroke-width="0.13">Pore Size (nm)</text>
<text transform="translate(23.1,236.6) rotate(-90)" font-size="7.45" text-anchor="middle" fill="#0a0a0a" font-weight="bold" font-family="'Liberation Sans', sans-serif"  stroke="#0a0a0a" stroke-width="0.13">d(PV)/d(log(PS)) (cm<tspan font-size="5.4" dy="-3.2">3</tspan><tspan dy="3.2">/(g•nm))</tspan></text>
<polyline points="54.10,276.80 54.90,272.10 56.10,267.10 58.00,260.00 60.90,253.30 63.90,254.10 67.10,259.20 69.80,264.50 72.40,268.00 75.60,269.80 78.80,269.80 81.70,268.80 86.10,268.30 90.80,267.40 96.20,266.10 101.00,264.60 105.70,262.50 110.00,258.20 115.30,252.20 121.30,245.10 129.00,227.30 139.70,205.30 156.50,189.40 162.50,192.30 171.90,193.90" fill="none" stroke="#3a3a3a" stroke-width="0.7" stroke-linejoin="round" />
<polyline points="53.50,282.50 54.70,281.50 56.10,280.40 58.00,279.20 60.80,278.40 63.90,278.40 67.10,279.20 69.80,279.80 72.90,280.40 76.10,280.40 78.80,279.80 81.70,279.30 86.10,278.10 90.50,276.70 94.00,275.20 97.00,274.20 101.00,272.10 105.70,270.10 110.00,267.30 115.30,263.00 121.30,257.50 129.60,245.50 139.80,224.20 153.60,217.30 161.40,236.60 176.60,274.40" fill="none" stroke="#f04040" stroke-width="0.7" stroke-linejoin="round" />
<circle cx="54.10" cy="276.80" r="1.35" fill="#000" stroke="none" stroke-width="0.6"/>
<circle cx="54.90" cy="272.10" r="1.35" fill="#000" stroke="none" stroke-width="0.6"/>
<circle cx="56.10" cy="267.10" r="1.35" fill="#000" stroke="none" stroke-width="0.6"/>
<circle cx="58.00" cy="260.00" r="1.35" fill="#000" stroke="none" stroke-width="0.6"/>
<circle cx="60.90" cy="253.30" r="1.35" fill="#000" stroke="none" stroke-width="0.6"/>
<circle cx="63.90" cy="254.10" r="1.35" fill="#000" stroke="none" stroke-width="0.6"/>
<circle cx="67.10" cy="259.20" r="1.35" fill="#000" stroke="none" stroke-width="0.6"/>
<circle cx="69.80" cy="264.50" r="1.35" fill="#000" stroke="none" stroke-width="0.6"/>
<circle cx="72.40" cy="268.00" r="1.35" fill="#000" stroke="none" stroke-width="0.6"/>
<circle cx="75.60" cy="269.80" r="1.35" fill="#000" stroke="none" stroke-width="0.6"/>
<circle cx="78.80" cy="269.80" r="1.35" fill="#000" stroke="none" stroke-width="0.6"/>
<circle cx="81.70" cy="268.80" r="1.35" fill="#000" stroke="none" stroke-width="0.6"/>
<circle cx="86.10" cy="268.30" r="1.35" fill="#000" stroke="none" stroke-width="0.6"/>
<circle cx="90.80" cy="267.40" r="1.35" fill="#000" stroke="none" stroke-width="0.6"/>
<circle cx="96.20" cy="266.10" r="1.35" fill="#000" stroke="none" stroke-width="0.6"/>
<circle cx="101.00" cy="264.60" r="1.35" fill="#000" stroke="none" stroke-width="0.6"/>
<circle cx="105.70" cy="262.50" r="1.35" fill="#000" stroke="none" stroke-width="0.6"/>
<circle cx="110.00" cy="258.20" r="1.35" fill="#000" stroke="none" stroke-width="0.6"/>
<circle cx="115.30" cy="252.20" r="1.35" fill="#000" stroke="none" stroke-width="0.6"/>
<circle cx="121.30" cy="245.10" r="1.35" fill="#000" stroke="none" stroke-width="0.6"/>
<circle cx="129.00" cy="227.30" r="1.35" fill="#000" stroke="none" stroke-width="0.6"/>
<circle cx="139.70" cy="205.30" r="1.35" fill="#000" stroke="none" stroke-width="0.6"/>
<circle cx="156.50" cy="189.40" r="1.35" fill="#000" stroke="none" stroke-width="0.6"/>
<circle cx="162.50" cy="192.30" r="1.35" fill="#000" stroke="none" stroke-width="0.6"/>
<circle cx="171.90" cy="193.90" r="1.35" fill="#000" stroke="none" stroke-width="0.6"/>
<circle cx="53.50" cy="282.50" r="1.2" fill="#f00000" stroke="none" stroke-width="0.6"/>
<circle cx="54.70" cy="281.50" r="1.2" fill="#f00000" stroke="none" stroke-width="0.6"/>
<circle cx="56.10" cy="280.40" r="1.2" fill="#f00000" stroke="none" stroke-width="0.6"/>
<circle cx="58.00" cy="279.20" r="1.2" fill="#f00000" stroke="none" stroke-width="0.6"/>
<circle cx="60.80" cy="278.40" r="1.2" fill="#f00000" stroke="none" stroke-width="0.6"/>
<circle cx="63.90" cy="278.40" r="1.2" fill="#f00000" stroke="none" stroke-width="0.6"/>
<circle cx="67.10" cy="279.20" r="1.2" fill="#f00000" stroke="none" stroke-width="0.6"/>
<circle cx="69.80" cy="279.80" r="1.2" fill="#f00000" stroke="none" stroke-width="0.6"/>
<circle cx="72.90" cy="280.40" r="1.2" fill="#f00000" stroke="none" stroke-width="0.6"/>
<circle cx="76.10" cy="280.40" r="1.2" fill="#f00000" stroke="none" stroke-width="0.6"/>
<circle cx="78.80" cy="279.80" r="1.2" fill="#f00000" stroke="none" stroke-width="0.6"/>
<circle cx="81.70" cy="279.30" r="1.2" fill="#f00000" stroke="none" stroke-width="0.6"/>
<circle cx="86.10" cy="278.10" r="1.2" fill="#f00000" stroke="none" stroke-width="0.6"/>
<circle cx="90.50" cy="276.70" r="1.2" fill="#f00000" stroke="none" stroke-width="0.6"/>
<circle cx="94.00" cy="275.20" r="1.2" fill="#f00000" stroke="none" stroke-width="0.6"/>
<circle cx="97.00" cy="274.20" r="1.2" fill="#f00000" stroke="none" stroke-width="0.6"/>
<circle cx="101.00" cy="272.10" r="1.2" fill="#f00000" stroke="none" stroke-width="0.6"/>
<circle cx="105.70" cy="270.10" r="1.2" fill="#f00000" stroke="none" stroke-width="0.6"/>
<circle cx="110.00" cy="267.30" r="1.2" fill="#f00000" stroke="none" stroke-width="0.6"/>
<circle cx="115.30" cy="263.00" r="1.2" fill="#f00000" stroke="none" stroke-width="0.6"/>
<circle cx="121.30" cy="257.50" r="1.2" fill="#f00000" stroke="none" stroke-width="0.6"/>
<circle cx="129.60" cy="245.50" r="1.2" fill="#f00000" stroke="none" stroke-width="0.6"/>
<circle cx="139.80" cy="224.20" r="1.2" fill="#f00000" stroke="none" stroke-width="0.6"/>
<circle cx="153.60" cy="217.30" r="1.2" fill="#f00000" stroke="none" stroke-width="0.6"/>
<circle cx="161.40" cy="236.60" r="1.2" fill="#f00000" stroke="none" stroke-width="0.6"/>
<circle cx="176.60" cy="274.40" r="1.2" fill="#f00000" stroke="none" stroke-width="0.6"/>
<rect x="35.0" y="173.4" width="146.5" height="117.6" stroke="#666666" stroke-width="1.2" fill="none"/>
<rect x="35.0" y="173.4" width="59.2" height="15.900000000000006" stroke="#666666" stroke-width="1.3" fill="#fff"/>
<line x1="40.1" y1="178.0" x2="53.5" y2="178.0" stroke="#aaa" stroke-width="0.9" />
<circle cx="47.10" cy="178.00" r="1.3" fill="#000" stroke="none" stroke-width="0.6"/>
<line x1="40.1" y1="186.2" x2="53.5" y2="186.2" stroke="#f8a0a0" stroke-width="0.9" />
<circle cx="47.30" cy="186.20" r="1.3" fill="#f00000" stroke="none" stroke-width="0.6"/>
<text x="55.8" y="180.2" font-size="6.2" text-anchor="start" fill="#0a0a0a" font-weight="bold" font-family="'Liberation Sans', sans-serif"  stroke="#0a0a0a" stroke-width="0.13">PG/MWCNT</text>
<text x="55.8" y="188.4" font-size="6.2" text-anchor="start" fill="#0a0a0a" font-weight="bold" font-family="'Liberation Sans', sans-serif"  stroke="#0a0a0a" stroke-width="0.13">PG</text>
<text x="195.4" y="170.6" font-size="15.5" text-anchor="start" fill="#111" font-weight="bold" font-family="'Liberation Serif', serif" >(d)</text>
<line x1="227.9" y1="290.5" x2="229.9" y2="290.5" stroke="#5a5a5a" stroke-width="1" />
<text x="223.6" y="293.0" font-size="7.0" text-anchor="end" fill="#0a0a0a" font-weight="bold" font-family="'Liberation Sans', sans-serif"  stroke="#0a0a0a" stroke-width="0.13">10</text>
<text x="224.2" y="290.1" font-size="4.6" text-anchor="start" fill="#0a0a0a" font-weight="bold" font-family="'Liberation Sans', sans-serif"  stroke="#0a0a0a" stroke-width="0.13">-2</text>
<line x1="227.9" y1="255.15" x2="229.9" y2="255.15" stroke="#5a5a5a" stroke-width="1" />
<text x="223.6" y="257.65" font-size="7.0" text-anchor="end" fill="#0a0a0a" font-weight="bold" font-family="'Liberation Sans', sans-serif"  stroke="#0a0a0a" stroke-width="0.13">10</text>
<text x="224.2" y="254.75" font-size="4.6" text-anchor="start" fill="#0a0a0a" font-weight="bold" font-family="'Liberation Sans', sans-serif"  stroke="#0a0a0a" stroke-width="0.13">-1</text>
<line x1="227.9" y1="219.8" x2="229.9" y2="219.8" stroke="#5a5a5a" stroke-width="1" />
<text x="223.6" y="222.3" font-size="7.0" text-anchor="end" fill="#0a0a0a" font-weight="bold" font-family="'Liberation Sans', sans-serif"  stroke="#0a0a0a" stroke-width="0.13">10</text>
<text x="224.2" y="219.4" font-size="4.6" text-anchor="start" fill="#0a0a0a" font-weight="bold" font-family="'Liberation Sans', sans-serif"  stroke="#0a0a0a" stroke-width="0.13">0</text>
<line x1="227.9" y1="184.45000000000002" x2="229.9" y2="184.45000000000002" stroke="#5a5a5a" stroke-width="1" />
<text x="223.6" y="186.95000000000002" font-size="7.0" text-anchor="end" fill="#0a0a0a" font-weight="bold" font-family="'Liberation Sans', sans-serif"  stroke="#0a0a0a" stroke-width="0.13">10</text>
<text x="224.2" y="184.05" font-size="4.6" text-anchor="start" fill="#0a0a0a" font-weight="bold" font-family="'Liberation Sans', sans-serif"  stroke="#0a0a0a" stroke-width="0.13">1</text>
<line x1="228.8" y1="279.8585896532783" x2="229.9" y2="279.8585896532783" stroke="#5a5a5a" stroke-width="0.7" />
<line x1="228.8" y1="273.63376364565994" x2="229.9" y2="273.63376364565994" stroke="#5a5a5a" stroke-width="0.7" />
<line x1="228.8" y1="269.21717930655655" x2="229.9" y2="269.21717930655655" stroke="#5a5a5a" stroke-width="0.7" />
<line x1="228.8" y1="265.79141034672176" x2="229.9" y2="265.79141034672176" stroke="#5a5a5a" stroke-width="0.7" />
<line x1="228.8" y1="262.9923532989382" x2="229.9" y2="262.9923532989382" stroke="#5a5a5a" stroke-width="0.7" />
<line x1="228.8" y1="260.625784285496" x2="229.9" y2="260.625784285496" stroke="#5a5a5a" stroke-width="0.7" />
<line x1="228.8" y1="258.5757689598348" x2="229.9" y2="258.5757689598348" stroke="#5a5a5a" stroke-width="0.7" />
<line x1="228.8" y1="256.7675272913199" x2="229.9" y2="256.7675272913199" stroke="#5a5a5a" stroke-width="0.7" />
<line x1="228.8" y1="244.50858965327828" x2="229.9" y2="244.50858965327828" stroke="#5a5a5a" stroke-width="0.7" />
<line x1="228.8" y1="238.28376364565995" x2="229.9" y2="238.28376364565995" stroke="#5a5a5a" stroke-width="0.7" />
<line x1="228.8" y1="233.86717930655655" x2="229.9" y2="233.86717930655655" stroke="#5a5a5a" stroke-width="0.7" />
<line x1="228.8" y1="230.44141034672174" x2="229.9" y2="230.44141034672174" stroke="#5a5a5a" stroke-width="0.7" />
<line x1="228.8" y1="227.64235329893822" x2="229.9" y2="227.64235329893822" stroke="#5a5a5a" stroke-width="0.7" />
<line x1="228.8" y1="225.27578428549603" x2="229.9" y2="225.27578428549603" stroke="#5a5a5a" stroke-width="0.7" />
<line x1="228.8" y1="223.2257689598348" x2="229.9" y2="223.2257689598348" stroke="#5a5a5a" stroke-width="0.7" />
<line x1="228.8" y1="221.41752729131989" x2="229.9" y2="221.41752729131989" stroke="#5a5a5a" stroke-width="0.7" />
<line x1="228.8" y1="209.15858965327828" x2="229.9" y2="209.15858965327828" stroke="#5a5a5a" stroke-width="0.7" />
<line x1="228.8" y1="202.93376364565995" x2="229.9" y2="202.93376364565995" stroke="#5a5a5a" stroke-width="0.7" />
<line x1="228.8" y1="198.51717930655653" x2="229.9" y2="198.51717930655653" stroke="#5a5a5a" stroke-width="0.7" />
<line x1="228.8" y1="195.09141034672174" x2="229.9" y2="195.09141034672174" stroke="#5a5a5a" stroke-width="0.7" />
<line x1="228.8" y1="192.2923532989382" x2="229.9" y2="192.2923532989382" stroke="#5a5a5a" stroke-width="0.7" />
<line x1="228.8" y1="189.92578428549604" x2="229.9" y2="189.92578428549604" stroke="#5a5a5a" stroke-width="0.7" />
<line x1="228.8" y1="187.8757689598348" x2="229.9" y2="187.8757689598348" stroke="#5a5a5a" stroke-width="0.7" />
<line x1="228.8" y1="186.0675272913199" x2="229.9" y2="186.0675272913199" stroke="#5a5a5a" stroke-width="0.7" />
<line x1="228.8" y1="173.80858965327826" x2="229.9" y2="173.80858965327826" stroke="#5a5a5a" stroke-width="0.7" />
<line x1="229.6" y1="291.2" x2="229.6" y2="293.2" stroke="#5a5a5a" stroke-width="1" />
<text x="229.6" y="300.8" font-size="6.95" text-anchor="middle" fill="#0a0a0a" font-weight="bold" font-family="'Liberation Sans', sans-serif"  stroke="#0a0a0a" stroke-width="0.13">1</text>
<line x1="303.4" y1="291.2" x2="303.4" y2="293.2" stroke="#5a5a5a" stroke-width="1" />
<text x="303.4" y="300.8" font-size="6.95" text-anchor="middle" fill="#0a0a0a" font-weight="bold" font-family="'Liberation Sans', sans-serif"  stroke="#0a0a0a" stroke-width="0.13">10</text>
<line x1="377.2" y1="291.2" x2="377.2" y2="293.2" stroke="#5a5a5a" stroke-width="1" />
<text x="377.2" y="300.8" font-size="6.95" text-anchor="middle" fill="#0a0a0a" font-weight="bold" font-family="'Liberation Sans', sans-serif"  stroke="#0a0a0a" stroke-width="0.13">100</text>
<line x1="251.81601368000182" y1="291.2" x2="251.81601368000182" y2="292.4" stroke="#5a5a5a" stroke-width="0.7" />
<line x1="264.8115485983111" y1="291.2" x2="264.8115485983111" y2="292.4" stroke="#5a5a5a" stroke-width="0.7" />
<line x1="274.0320273600036" y1="291.2" x2="274.0320273600036" y2="292.4" stroke="#5a5a5a" stroke-width="0.7" />
<line x1="281.1839863199982" y1="291.2" x2="281.1839863199982" y2="292.4" stroke="#5a5a5a" stroke-width="0.7" />
<line x1="287.02756227831287" y1="291.2" x2="287.02756227831287" y2="292.4" stroke="#5a5a5a" stroke-width="0.7" />
<line x1="291.96823535305214" y1="291.2" x2="291.96823535305214" y2="292.4" stroke="#5a5a5a" stroke-width="0.7" />
<line x1="296.24804104000543" y1="291.2" x2="296.24804104000543" y2="292.4" stroke="#5a5a5a" stroke-width="0.7" />
<line x1="300.0230971966222" y1="291.2" x2="300.0230971966222" y2="292.4" stroke="#5a5a5a" stroke-width="0.7" />
<line x1="325.6160136800018" y1="291.2" x2="325.6160136800018" y2="292.4" stroke="#5a5a5a" stroke-width="0.7" />
<line x1="338.61154859831106" y1="291.2" x2="338.61154859831106" y2="292.4" stroke="#5a5a5a" stroke-width="0.7" />
<line x1="347.8320273600036" y1="291.2" x2="347.8320273600036" y2="292.4" stroke="#5a5a5a" stroke-width="0.7" />
<line x1="354.98398631999817" y1="291.2" x2="354.98398631999817" y2="292.4" stroke="#5a5a5a" stroke-width="0.7" />
<line x1="360.8275622783129" y1="291.2" x2="360.8275622783129" y2="292.4" stroke="#5a5a5a" stroke-width="0.7" />
<line x1="365.76823535305215" y1="291.2" x2="365.76823535305215" y2="292.4" stroke="#5a5a5a" stroke-width="0.7" />
<line x1="370.0480410400054" y1="291.2" x2="370.0480410400054" y2="292.4" stroke="#5a5a5a" stroke-width="0.7" />
<line x1="373.82309719662214" y1="291.2" x2="373.82309719662214" y2="292.4" stroke="#5a5a5a" stroke-width="0.7" />
<text x="302.6" y="309.0" font-size="7.2" text-anchor="middle" fill="#0a0a0a" font-weight="bold" font-family="'Liberation Sans', sans-serif"  stroke="#0a0a0a" stroke-width="0.13">Density (mg/cm<tspan font-size="5.0" dy="-3.0">3</tspan><tspan dy="3.0">)</tspan></text>
<text transform="translate(213.6,229.4) rotate(-90)" font-size="7.4" text-anchor="middle" fill="#0a0a0a" font-weight="bold" font-family="'Liberation Sans', sans-serif"  stroke="#0a0a0a" stroke-width="0.13">Conductivity (S/cm)</text>
<rect x="283.30" y="182.00" width="2.4" height="2.4" fill="#c040b0" stroke="none" stroke-width="0.6"/>
<circle cx="308.70" cy="223.20" r="1.45" fill="#f00000" stroke="none" stroke-width="0.6"/>
<circle cx="350.90" cy="208.70" r="1.45" fill="#f00000" stroke="none" stroke-width="0.6"/>
<circle cx="364.90" cy="202.70" r="1.45" fill="#f00000" stroke="none" stroke-width="0.6"/>
<polygon points="303.30,217.30 305.20,220.72 301.40,220.72" fill="#108a30"/>
<polygon points="240.30,264.55 242.25,261.04 238.35,261.04" fill="#2040c0"/>
<polygon points="259.00,258.15 260.95,254.64 257.05,254.64" fill="#2040c0"/>
<polygon points="277.80,240.45 279.75,236.94 275.85,236.94" fill="#2040c0"/>
<polygon points="297.80,225.35 299.75,221.84 295.85,221.84" fill="#2040c0"/>
<polygon points="294.00,217.40 296.00,219.40 294.00,221.40 292.00,219.40" fill="#000"/>
<polygon points="303.30,203.50 305.30,205.50 303.30,207.50 301.30,205.50" fill="#000"/>
<polygon points="325.10,183.60 327.10,185.60 325.10,187.60 323.10,185.60" fill="#000"/>
<polygon points="347.20,181.90 349.20,183.90 347.20,185.90 345.20,183.90" fill="#000"/>
<rect x="229.9" y="173.3" width="146.29999999999998" height="117.89999999999998" stroke="#666666" stroke-width="1.2" fill="none"/>
<rect x="269.80" y="255.20" width="2.4" height="2.4" fill="#c040b0" stroke="none" stroke-width="0.6"/>
<circle cx="271.00" cy="263.50" r="1.45" fill="#f00000" stroke="none" stroke-width="0.6"/>
<polygon points="271.00,269.40 272.90,272.82 269.10,272.82" fill="#108a30"/>
<polygon points="271.00,281.25 272.95,277.74 269.05,277.74" fill="#2040c0"/>
<polygon points="271.00,284.80 273.00,286.80 271.00,288.80 269.00,286.80" fill="#000"/>
<text x="278.4" y="258.4" font-size="5.55" text-anchor="start" fill="#0a0a0a" font-weight="bold" font-family="'Liberation Sans', sans-serif"  stroke="#0a0a0a" stroke-width="0.13">CVD graphene foam</text>
<text x="278.4" y="265.5" font-size="5.55" text-anchor="start" fill="#0a0a0a" font-weight="bold" font-family="'Liberation Sans', sans-serif"  stroke="#0a0a0a" stroke-width="0.13">CNT foam</text>
<text x="278.4" y="273.3" font-size="5.55" text-anchor="start" fill="#0a0a0a" font-weight="bold" font-family="'Liberation Sans', sans-serif"  stroke="#0a0a0a" stroke-width="0.13">reduced graphene based aerogel</text>
<text x="278.4" y="281.3" font-size="5.55" text-anchor="start" fill="#0a0a0a" font-weight="bold" font-family="'Liberation Sans', sans-serif"  stroke="#0a0a0a" stroke-width="0.13">reduced graphene cellular network</text>
<text x="278.4" y="288.8" font-size="5.55" text-anchor="start" fill="#0a0a0a" font-weight="bold" font-family="'Liberation Sans', sans-serif"  stroke="#0a0a0a" stroke-width="0.13">pristine graphene aerogel (our work)</text>
</svg>
</body></html>
